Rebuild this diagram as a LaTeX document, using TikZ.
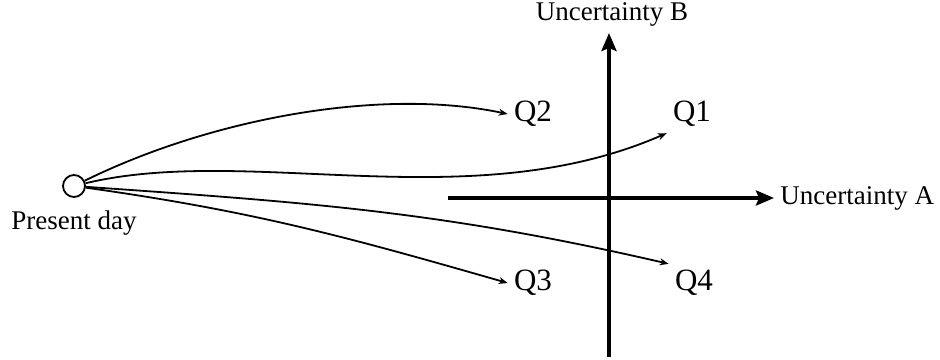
\documentclass[tikz,border=0pt]{standalone}
\usepackage{fontspec}
\setmainfont{Liberation Serif}
\usetikzlibrary{arrows.meta}

\begin{document}
\begin{tikzpicture}[x=0.5pt, y=0.5pt,
  axis/.style={line width=1.8pt, -{Stealth[length=9pt, width=7.5pt, inset=1.5pt]}},
  path/.style={line width=0.9pt, -{Stealth[length=4.5pt, width=3.5pt]}},
  lbl/.style={inner sep=3pt, font=\fontsize{13.5}{16}\selectfont},
  quad/.style={inner sep=3pt, font=\fontsize{15.5}{18}\selectfont}]
  \useasboundingbox (0,0) rectangle (940,359);

  % 现在
  \node[draw, circle, line width=0.9pt, inner sep=0pt, minimum size=11pt] (pd) at (74,173) {};
  \node[lbl] (pdl) at (74,136) {Present day};

  % 坐标轴
  \coordinate (ha) at (448,161);
  \node[lbl, anchor=west] (ua) at (774,161) {Uncertainty A};
  \coordinate (vb) at (609,2);
  \coordinate (vt) at (609,326);
  \node[lbl] (ub) at (612,345) {Uncertainty B};
  \draw[axis] (ha) -- (ua.west);
  \draw[axis] (vb) -- (vt);

  % 四个象限
  \node[quad] (q2) at (533,245) {Q2};
  \node[quad] (q1) at (692,245) {Q1};
  \node[quad] (q3) at (533,76) {Q3};
  \node[quad] (q4) at (694,76) {Q4};

  \draw[path] (pd) .. controls (210,240) and (380,272) .. (q2.west);
  \draw[path] (pd) .. controls (250,215) and (470,140) .. (q1.south west);
  \draw[path] (pd) to[out=-8, in=164] (q3.west);
  \draw[path] (pd) to[out=-4, in=167] (q4.north west);
\end{tikzpicture}
\end{document}
